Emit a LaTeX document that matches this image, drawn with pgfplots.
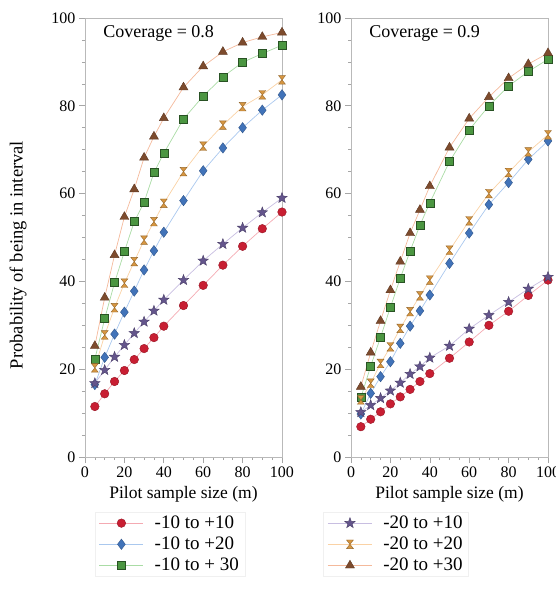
\documentclass[border=0pt]{standalone}
\usepackage{fontspec}
\setmainfont{Liberation Serif}
\usepackage{pgfplots}
\usepackage{pgfplotstable}
\pgfplotsset{compat=1.18}

\definecolor{redm}{RGB}{200,30,50}
\definecolor{bluem}{RGB}{65,115,185}
\definecolor{greenm}{RGB}{75,150,65}
\definecolor{purplem}{RGB}{100,85,140}
\definecolor{orangem}{RGB}{215,150,65}
\definecolor{brownm}{RGB}{125,75,45}
\definecolor{redl}{RGB}{244,170,178}
\definecolor{bluel}{RGB}{170,200,238}
\definecolor{greenl}{RGB}{170,220,165}
\definecolor{purplel}{RGB}{200,190,225}
\definecolor{orangel}{RGB}{250,210,165}
\definecolor{brownl}{RGB}{244,185,155}

\pgfdeclareplotmark{hourglass}{%
  \pgfpathmoveto{\pgfqpoint{-0.8\pgfplotmarksize}{\pgfplotmarksize}}%
  \pgfpathlineto{\pgfqpoint{0.8\pgfplotmarksize}{\pgfplotmarksize}}%
  \pgfpathlineto{\pgfqpoint{-0.8\pgfplotmarksize}{-\pgfplotmarksize}}%
  \pgfpathlineto{\pgfqpoint{0.8\pgfplotmarksize}{-\pgfplotmarksize}}%
  \pgfpathclose\pgfusepathqfillstroke}
\pgfdeclareplotmark{fstar}{%
  \pgfpathmoveto{\pgfpointpolar{90}{1.2\pgfplotmarksize}}%
  \pgfpathlineto{\pgfpointpolar{126}{0.5\pgfplotmarksize}}%
  \pgfpathlineto{\pgfpointpolar{162}{1.2\pgfplotmarksize}}%
  \pgfpathlineto{\pgfpointpolar{198}{0.5\pgfplotmarksize}}%
  \pgfpathlineto{\pgfpointpolar{234}{1.2\pgfplotmarksize}}%
  \pgfpathlineto{\pgfpointpolar{270}{0.5\pgfplotmarksize}}%
  \pgfpathlineto{\pgfpointpolar{306}{1.2\pgfplotmarksize}}%
  \pgfpathlineto{\pgfpointpolar{342}{0.5\pgfplotmarksize}}%
  \pgfpathlineto{\pgfpointpolar{18}{1.2\pgfplotmarksize}}%
  \pgfpathlineto{\pgfpointpolar{54}{0.5\pgfplotmarksize}}%
  \pgfpathclose\pgfusepathqfillstroke}

% Coverage = 0.8
\pgfplotstableread{
x   a    b    c    d    e    f
5   11.5 16.5 22.3 16.8 20.3 25.3
10  14.4 22.7 31.5 19.8 27.8 36.3
15  17.2 28.0 39.7 22.8 34.0 46.0
20  19.7 33.0 46.8 25.5 39.6 54.7
25  22.2 37.8 53.6 28.2 44.5 61.0
30  24.7 42.6 58.0 30.8 49.4 68.2
35  27.2 47.0 64.8 33.3 53.6 73.0
40  29.8 51.2 69.2 35.8 57.8 77.2
50  34.5 58.4 77.0 40.3 65.0 84.2
60  39.1 65.2 82.2 44.7 70.8 89.0
70  43.7 70.4 86.6 48.5 75.6 92.3
80  48.0 75.0 89.9 52.2 79.8 94.4
90  52.0 79.0 91.9 55.7 82.5 95.7
100 55.8 82.5 93.8 59.0 85.9 96.7
}\covA

% Coverage = 0.9
\pgfplotstableread{
x   a    b    c    d    e    f
5   6.9  9.8  13.5 10.2 13.0 16.0
10  8.6  14.5 20.7 11.8 16.8 23.8
15  10.3 18.3 27.3 13.4 21.3 31.0
20  12.1 21.7 34.1 15.1 25.1 38.0
25  13.7 25.9 40.7 16.9 29.3 44.5
30  15.4 29.8 46.9 18.9 33.1 51.0
35  17.2 33.3 52.8 20.6 36.7 56.3
40  19.0 36.9 57.9 22.6 40.3 61.7
50  22.5 44.1 67.3 25.3 47.1 70.5
60  26.2 51.0 74.5 29.2 53.8 77.1
70  30.0 57.5 80.0 32.3 60.0 82.0
80  33.2 62.5 84.5 35.3 64.8 86.3
90  36.8 67.8 87.8 38.3 69.5 89.5
100 40.3 72.0 90.6 41.0 73.4 92.0
}\covB

\pgfplotsset{
  panel/.style={
    scale only axis, width=197pt, height=439pt,
    xmin=0, xmax=100, ymin=0, ymax=100,
    xtick={0,20,...,100}, ytick={0,20,...,100},
    minor tick num=3,
    tick align=outside, tick pos=left,
    major tick length=6pt, minor tick length=3pt,
    axis line style={gray!55},
    every tick/.style={gray!70, line width=0.6pt},
    tick label style={font=\fontsize{16}{18}\selectfont},
    /pgf/number format/assume math mode=true,
    label style={font=\fontsize{17.5}{20}\selectfont},
    xlabel={Pilot sample size (m)},
    xlabel style={at={(axis description cs:0.5,-0.085)}, anchor=center},
    legend cell align=left,
    legend style={draw=gray!12, fill=white, font=\fontsize{19}{21}\selectfont,
      anchor=north west, row sep=3pt, column sep=9pt, inner xsep=4pt},
    legend image code/.code={\draw[mark repeat=2,mark phase=2] plot coordinates {(0pt,0pt) (22pt,0pt) (44pt,0pt)};},
  },
  sA/.style={color=redl, line width=0.7pt, mark=*, mark size=4.3pt, mark options={fill=redm, draw=redm!75!black, line width=0.4pt}},
  sB/.style={color=bluel, line width=0.7pt, mark=diamond*, mark size=5.2pt, mark options={fill=bluem, draw=bluem!75!black, line width=0.4pt}},
  sC/.style={color=greenl, line width=0.7pt, mark=square*, mark size=4.0pt, mark options={fill=greenm, draw=greenm!55!black, line width=0.5pt}},
  sD/.style={color=purplel, line width=0.7pt, mark=fstar, mark size=4.6pt, mark options={fill=purplem, draw=purplem!75!black, line width=0.4pt}},
  sE/.style={color=orangel, line width=0.7pt, mark=hourglass, mark size=4.3pt, mark options={fill=orangem, draw=orangem!70!black, line width=0.4pt}},
  sF/.style={color=brownl, line width=0.7pt, mark=triangle*, mark size=5.2pt, mark options={fill=brownm, draw=brownm!75!black, line width=0.4pt}},
}

\begin{document}
\begin{tikzpicture}
\begin{axis}[panel, at={(0pt,0pt)}, anchor=south west,
  ylabel={Probability of being in interval},
  ylabel style={at={(axis description cs:-0.34,0.46)}, anchor=center, font=\fontsize{18.5}{20}\selectfont},
  legend style={at={(axis description cs:0.05,-0.125)}}]
  \addplot[sA] table[x=x,y=a] {\covA}; \addlegendentry{-10 to +10}
  \addplot[sB] table[x=x,y=b] {\covA}; \addlegendentry{-10 to +20}
  \addplot[sC] table[x=x,y=c] {\covA}; \addlegendentry{-10 to + 30}
  \addplot[sD, forget plot] table[x=x,y=d] {\covA};
  \addplot[sE, forget plot] table[x=x,y=e] {\covA};
  \addplot[sF, forget plot] table[x=x,y=f] {\covA};
  \node[anchor=west, font=\fontsize{18}{20}\selectfont] at (rel axis cs:0.075,0.965) {Coverage = 0.8};
\end{axis}
\begin{axis}[panel, at={(266pt,0pt)}, anchor=south west,
  legend style={at={(axis description cs:-0.14,-0.125)}}]
  \addplot[sA, forget plot] table[x=x,y=a] {\covB};
  \addplot[sB, forget plot] table[x=x,y=b] {\covB};
  \addplot[sC, forget plot] table[x=x,y=c] {\covB};
  \addplot[sD] table[x=x,y=d] {\covB}; \addlegendentry{-20 to +10}
  \addplot[sE] table[x=x,y=e] {\covB}; \addlegendentry{-20 to +20}
  \addplot[sF] table[x=x,y=f] {\covB}; \addlegendentry{-20 to +30}
  \node[anchor=west, font=\fontsize{18}{20}\selectfont] at (rel axis cs:0.075,0.965) {Coverage = 0.9};
\end{axis}
\pgfresetboundingbox
\useasboundingbox (-85pt,-132pt) rectangle (470pt,457pt);
\end{tikzpicture}
\end{document}
